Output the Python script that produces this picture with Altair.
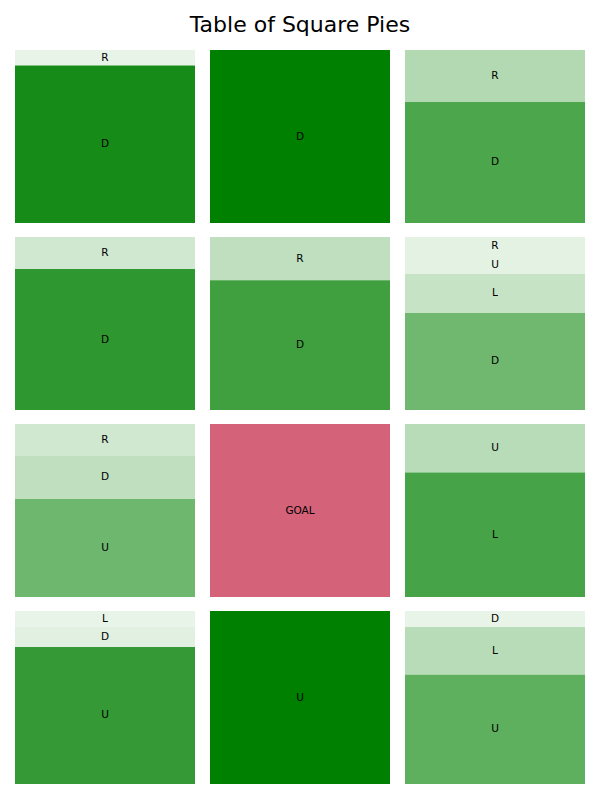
import altair as alt
import pandas as pd

title_text = "Table of Square Pies"

cell_rows = [0, 0, 0, 1, 1, 1, 2, 2, 2, 3, 3, 3]
cell_cols = [0, 1, 2, 0, 1, 2, 0, 1, 2, 0, 1, 2]
cell_labels = [
    ["R", "D"], ["D"], ["R", "D"],
    ["R", "D"], ["R", "D"], ["R", "U", "L", "D"],
    ["R", "D", "U"], ["GOAL"], ["U", "L"],
    ["L", "D", "U"], ["U"], ["D", "L", "U"],
]
cell_values = [
    [0.09, 0.91], [1.0], [0.30, 0.70],
    [0.185, 0.815], [0.25, 0.75], [0.107, 0.107, 0.225, 0.561],
    [0.183, 0.25, 0.567], [1.0], [0.28, 0.72],
    [0.092, 0.116, 0.792], [1.0], [0.092, 0.277, 0.631],
]

records = []
for i, (r, c, labs, vals) in enumerate(zip(cell_rows, cell_cols, cell_labels, cell_values)):
    for j, (lab, v) in enumerate(zip(labs, vals)):
        records.append({"cell": i, "row": r, "col": c, "seg": j, "label": lab, "value": v})
df = pd.DataFrame(records)

base = alt.Chart().transform_stack(
    stack="value", as_=["y0", "y1"], groupby=["cell"],
    sort=[alt.SortField("seg", order="ascending")],
).transform_calculate(
    mid="(datum.y0 + datum.y1) / 2",
    fillc="datum.label == 'GOAL' ? '#d4637a' : 'green'",
    alpha="datum.label == 'GOAL' ? 1 : datum.value",
)

yscale = alt.Scale(domain=[0, 1], reverse=True)

rect = base.mark_rect().encode(
    y=alt.Y("y0:Q", scale=yscale, axis=None),
    y2="y1:Q",
    color=alt.Color("fillc:N", scale=None),
    opacity=alt.Opacity("alpha:Q", scale=None),
)

text = base.mark_text(font="DejaVu Sans", fontSize=10.5, color="black").encode(
    y=alt.Y("mid:Q", scale=yscale, axis=None),
    text="label:N",
)

chart = alt.layer(rect, text, data=df).properties(width=180, height=173).facet(
    row=alt.Row("row:O", title=None, header=alt.Header(labels=False)),
    column=alt.Column("col:O", title=None, header=alt.Header(labels=False)),
    spacing={"row": 14, "column": 15},
).properties(
    title=alt.Title(title_text, fontSize=22, font="DejaVu Sans", fontWeight="normal",
                    anchor="middle", offset=13, color="black"),
).configure(
    padding={"left": 15, "right": 15, "top": 14, "bottom": 10},
).configure_view(stroke=None)

chart.save("out.html", embed_options={"renderer": "svg", "actions": False})
